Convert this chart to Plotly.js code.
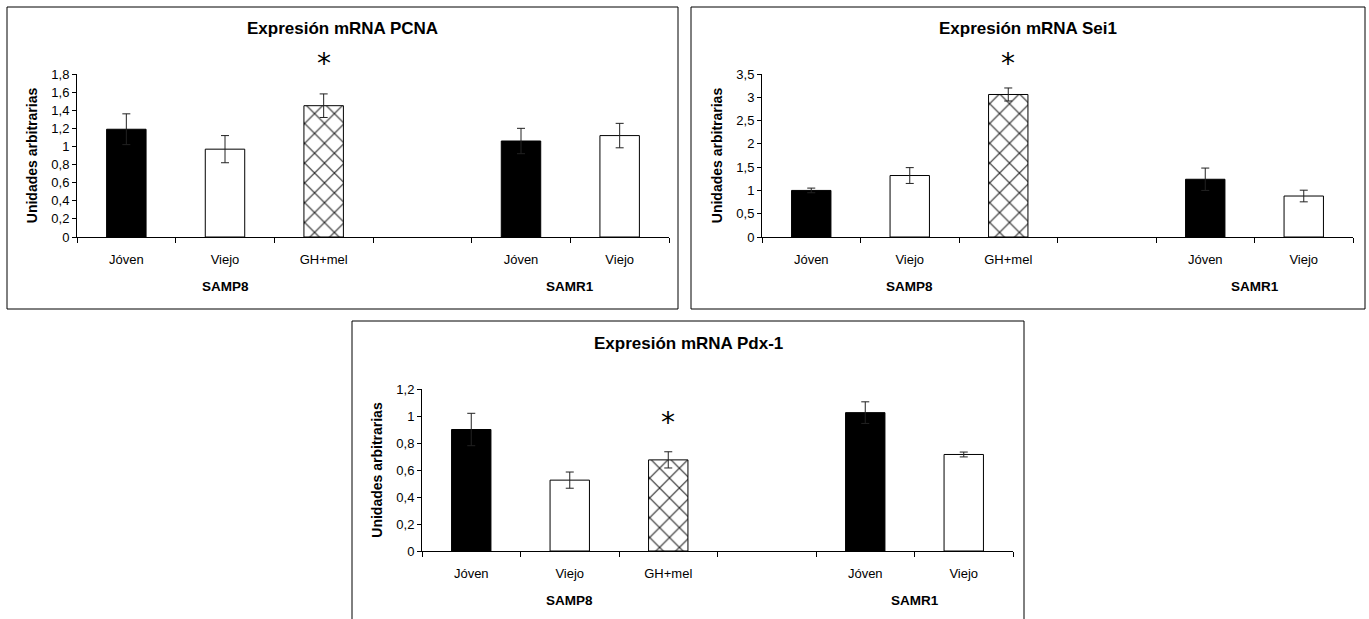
<!DOCTYPE html>
<html><head><meta charset="utf-8">
<script src="https://cdn.plot.ly/plotly-3.0.1.min.js"></script>
<style>html,body{margin:0;padding:0;background:#fff}</style>
</head><body><div id="chart" style="width:1369px;height:619px"></div>
<script>
// ---- data ----
const categories = ['Jóven', 'Viejo', 'GH+mel', '', 'Jóven', 'Viejo'];
const strains    = ['SAMP8', 'SAMP8', 'SAMP8', '', 'SAMR1', 'SAMR1'];
const significant = [false, false, true, false, false, false];

const pcnaMean = [1.19, 0.97, 1.45, null, 1.06, 1.12];
const pcnaErr  = [0.17, 0.15, 0.13, null, 0.14, 0.135];
const sei1Mean = [1.00, 1.32, 3.06, null, 1.24, 0.88];
const sei1Err  = [0.05, 0.17, 0.14, null, 0.24, 0.125];
const pdx1Mean = [0.90, 0.525, 0.675, null, 1.025, 0.715];
const pdx1Err  = [0.12, 0.06, 0.06, null, 0.08, 0.018];

const titles = ['Expresión mRNA PCNA', 'Expresión mRNA Sei1', 'Expresión mRNA Pdx-1'];
const yTitle = 'Unidades arbitrarias';

// ---- styles / layout ----
const W = 1369, H = 619;
const px = x => x / W, py = y => 1 - y / H;
const FONT = 'Liberation Sans, Arial, Helvetica, sans-serif';
const styles = {
  'Jóven':  {color: '#000000', pattern: null},
  'Viejo':  {color: '#ffffff', pattern: null},
  'GH+mel': {color: '#ffffff', pattern: {shape: 'x', fgcolor: '#2a2a2a', bgcolor: '#ffffff', size: 14, solidity: 0.16, fillmode: 'replace'}}
};

const panels = [
  {mean: pcnaMean, err: pcnaErr, yMax: 1.8, dtick: 0.2, box: [7, 7, 678, 309], plot: [77, 74, 669, 237], starShift: 12},
  {mean: sei1Mean, err: sei1Err, yMax: 3.5, dtick: 0.5, box: [691, 7, 1365, 309], plot: [762, 74, 1353, 237], starShift: 6},
  {mean: pdx1Mean, err: pdx1Err, yMax: 1.2, dtick: 0.2, box: [352, 321, 1024, 640], plot: [422, 389, 1013, 551], starShift: 11}
];

const idx = categories.map((_, i) => i);
const boundaries = idx.map(i => i - 0.5).concat([idx.length - 0.5]);

const data = [];
const layout = {
  width: W, height: H,
  margin: {l: 0, r: 0, t: 0, b: 0},
  paper_bgcolor: '#ffffff', plot_bgcolor: 'rgba(0,0,0,0)',
  showlegend: false,
  separators: ', ',
  barmode: 'overlay',
  font: {family: FONT, color: '#000', size: 13},
  annotations: [], shapes: []
};

panels.forEach((p, k) => {
  const n = k === 0 ? '' : String(k + 1);
  const xa = 'x' + n, ya = 'y' + n;

  Object.keys(styles).forEach(cat => {
    const st = styles[cat];
    const sel = idx.filter(i => categories[i] === cat && p.mean[i] !== null);
    const marker = {color: st.color, line: {color: '#000', width: 1}};
    if (st.pattern) marker.pattern = st.pattern;
    data.push({
      type: 'bar',
      x: sel,
      y: sel.map(i => p.mean[i]),
      xaxis: xa, yaxis: ya,
      width: 0.4,
      marker: marker,
      error_y: {type: 'data', array: sel.map(i => p.err[i]), visible: true, color: '#222', thickness: 1, width: 4},
      hoverinfo: 'skip'
    });
  });

  layout['xaxis' + n] = {
    domain: [px(p.plot[0]), px(p.plot[2])], anchor: ya,
    range: [-0.5, idx.length - 0.5], fixedrange: true,
    tickmode: 'array', tickvals: idx, ticktext: categories,
    ticks: 'outside', ticklen: 10, tickcolor: 'rgba(0,0,0,0)',
    tickfont: {family: FONT, size: 13, color: '#000'},
    showline: true, linecolor: '#000', linewidth: 1,
    showgrid: false, zeroline: false,
    minor: {tickmode: 'array', tickvals: boundaries, ticks: 'outside', ticklen: 5, tickcolor: '#000', tickwidth: 1, showgrid: false}
  };
  layout['yaxis' + n] = {
    domain: [py(p.plot[3]), py(p.plot[1])], anchor: xa,
    range: [0, p.yMax], fixedrange: true,
    tickmode: 'linear', tick0: 0, dtick: p.dtick,
    ticks: 'outside', ticklen: 4, tickcolor: '#000',
    tickfont: {family: FONT, size: 13, color: '#000'},
    showline: true, linecolor: '#000', linewidth: 1,
    showgrid: false, zeroline: false,
    title: {text: yTitle, font: {family: FONT, size: 14, weight: 'bold', color: '#000'}, standoff: 10}
  };

  // panel frame
  layout.shapes.push({type: 'rect', xref: 'paper', yref: 'paper',
    x0: px(p.box[0]), x1: px(p.box[2]), y0: py(p.box[3]), y1: py(p.box[1]),
    line: {color: '#000', width: 1}, fillcolor: 'rgba(0,0,0,0)', layer: 'below'});

  // panel title
  layout.annotations.push({text: titles[k], xref: 'paper', yref: 'paper',
    x: px((p.box[0] + p.box[2]) / 2), y: py(p.box[1] + 22), xanchor: 'center', yanchor: 'middle',
    showarrow: false, font: {family: FONT, size: 17, weight: 'bold', color: '#000'}});

  // strain group labels
  [...new Set(strains.filter(s => s))].forEach(s => {
    const members = idx.filter(i => strains[i] === s);
    const center = members.reduce((a, b) => a + b, 0) / members.length;
    layout.annotations.push({text: s, xref: xa, yref: 'paper',
      x: center, y: py(p.plot[3] + 49), xanchor: 'center', yanchor: 'middle',
      showarrow: false, font: {family: FONT, size: 13.5, weight: 'bold', color: '#000'}});
  });

  // significance marks
  idx.filter(i => significant[i]).forEach(i => {
    layout.annotations.push({text: '*', xref: xa, yref: ya,
      x: i, y: p.mean[i] + p.err[i], xanchor: 'center', yanchor: 'bottom', yshift: p.starShift,
      showarrow: false, font: {family: 'DejaVu Sans, sans-serif', size: 28, color: '#000'}});
  });
});

Plotly.newPlot('chart', data, layout, {displayModeBar: false, staticPlot: true});
</script>
</body></html>
